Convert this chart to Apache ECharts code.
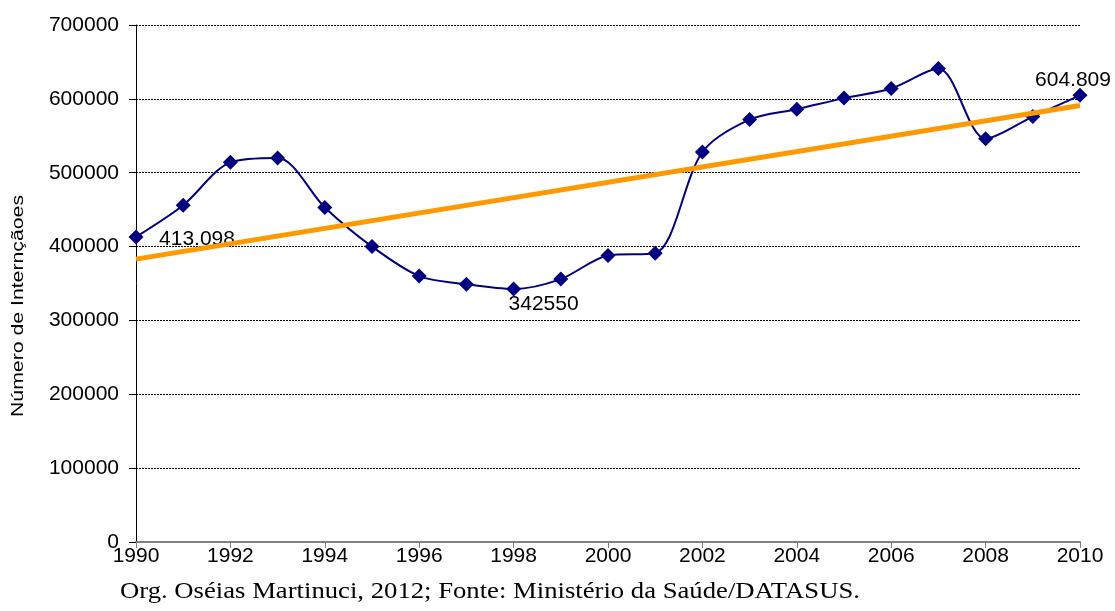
<!DOCTYPE html>
<html>
<head>
<meta charset="utf-8">
<script src="https://cdn.jsdelivr.net/npm/echarts@6/dist/echarts.min.js"></script>
<style>html,body{margin:0;padding:0;background:#fff;}#c{width:1115px;height:611px;}</style>
</head>
<body>
<div id="c"></div>
<script>
const years = [1990,1991,1992,1993,1994,1995,1996,1997,1998,1999,2000,2001,2002,2003,2004,2005,2006,2007,2008,2009,2010];
const internacoes = [413098,456000,514000,520000,453000,400000,360000,349000,342550,356000,388000,391000,528000,572000,586000,601000,614000,641000,546000,576000,604809];
const pointLabels = {0:'413.098', 8:'342550', 20:'604.809'};
const trendYears = [1990, 2010];
const trendValues = [383000, 591000];
const yTitle = 'Número de Internçãoes';
const footer = 'Org. Oséias Martinuci, 2012; Fonte: Ministério da Saúde/DATASUS.';

const labelOffsets = {0:[61,2], 8:[30,15], 20:[-7,-15]};
const mainData = years.map((y,i) => {
  const d = {value:[y, internacoes[i]]};
  if (pointLabels[i] !== undefined) {
    d.label = {show:true, position:'inside', offset:labelOffsets[i], formatter:pointLabels[i],
      color:'#000', fontSize:21, fontFamily:'Liberation Sans', align:'center', verticalAlign:'middle'};
  }
  return d;
});
const trendData = trendYears.map((y,i)=>[y, trendValues[i]]);

const chart = echarts.init(document.getElementById('c'), null, {renderer:'canvas'});
chart.setOption({
  animation:false,
  backgroundColor:'#fff',
  grid:{left:136, right:35, top:25, bottom:69, containLabel:false},
  xAxis:{type:'value', min:1990, max:2010, interval:2,
    axisLine:{show:true, lineStyle:{color:'#808080', width:2}},
    axisTick:{show:true, length:6, lineStyle:{color:'#808080', width:1}},
    axisLabel:{color:'#000', fontSize:21, fontFamily:'Liberation Sans', margin:4, formatter:v=>String(v)},
    splitLine:{show:false}},
  yAxis:{type:'value', min:0, max:700000, interval:100000,
    axisLine:{show:true, lineStyle:{color:'#000', width:1}},
    axisTick:{show:true, length:7, lineStyle:{color:'#000'}},
    axisLabel:{color:'#000', fontSize:21, fontFamily:'Liberation Sans', margin:17, formatter:v=>String(v)},
    splitLine:{show:true, lineStyle:{color:'#000', type:[2,1], width:1}}},
  series:[
    {type:'line', data:mainData, smooth:0.3, symbol:'diamond', symbolSize:15,
      lineStyle:{color:'#000080', width:2}, itemStyle:{color:'#000080'}, z:2},
    {type:'line', data:trendData, symbol:'none', lineStyle:{color:'#FF9900', width:5}, z:3, silent:true}
  ],
  graphic:[
    {type:'text', x:18, y:306, rotation:Math.PI/2, scaleX:1.25, style:{text:yTitle, fontFamily:'Liberation Sans', fontSize:17, fill:'#000', align:'center', verticalAlign:'middle'}},
    {type:'text', x:120, y:592, scaleX:1.16, style:{text:footer, fontFamily:'Liberation Serif', fontSize:23, fill:'#000', align:'left', verticalAlign:'middle'}}
  ]
});
</script>
</body>
</html>
